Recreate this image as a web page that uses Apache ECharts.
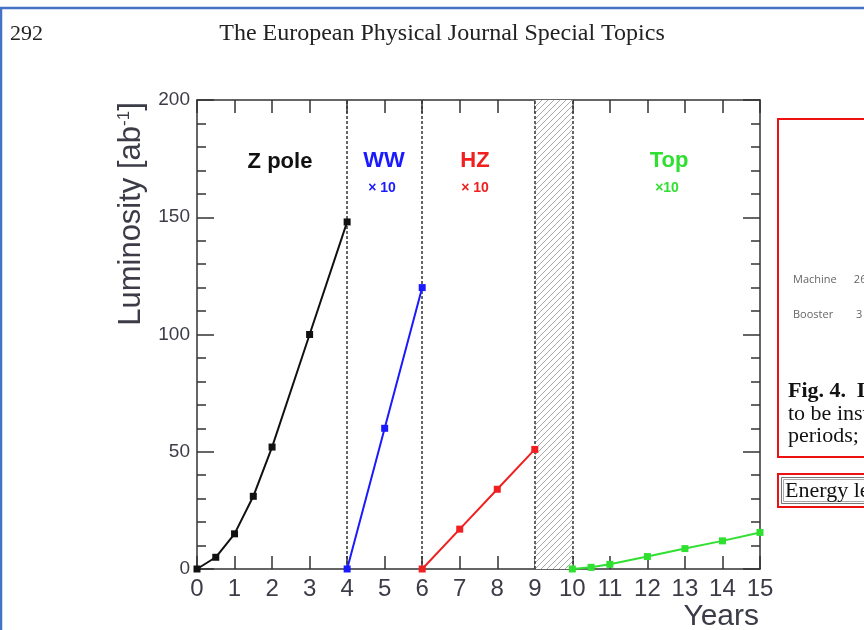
<!DOCTYPE html>
<html>
<head>
<meta charset="utf-8">
<script src="https://cdn.jsdelivr.net/npm/echarts@6/dist/echarts.min.js"></script>
<style>
  html, body { margin: 0; padding: 0; background: #fff; }
  #chart { width: 864px; height: 630px; }
</style>
</head>
<body>
<div id="chart"></div>
<script>
// 数据
const zYears = [0, 0.5, 1, 1.5, 2, 3, 4]
const zLumi = [0, 5, 15, 31, 52, 100, 148]
const wwYears = [4, 5, 6]
const wwLumi = [0, 60, 120]
const hzYears = [6, 7, 8, 9]
const hzLumi = [0, 17, 34, 51]
const topYears = [10, 10.5, 11, 12, 13, 14, 15]
const topLumi = [0, 0.7, 2, 5.3, 8.7, 12, 15.6]
const phaseBounds = [4, 6, 9, 10]
const shutdown = [9, 10]

const pairs = (xs, ys) => xs.map((x, i) => [x, ys[i]])

// hatch pattern for the shutdown gap
const hatch = document.createElement('canvas')
hatch.width = 6
hatch.height = 6
const hc = hatch.getContext('2d')
hc.fillStyle = '#fff'
hc.fillRect(0, 0, 6, 6)
hc.strokeStyle = '#ababab'
hc.lineWidth = 1
hc.beginPath()
hc.moveTo(-1, 7); hc.lineTo(7, -1)
hc.moveTo(-1, 1); hc.lineTo(1, -1)
hc.moveTo(5, 7); hc.lineTo(7, 5)
hc.stroke()

const axisCol = '#333'
const labelCol = '#3c3c48'

const xAxisBase = {
  type: 'value',
  min: 0,
  max: 15,
  interval: 1,
  axisLine: { onZero: false, lineStyle: { color: axisCol, width: 1.5 } },
  axisTick: { inside: true, length: 13, lineStyle: { color: axisCol, width: 1.5 } },
  splitLine: { show: false },
}
const yAxisBase = {
  type: 'value',
  min: 0,
  max: 200,
  interval: 50,
  axisLine: { show: true, onZero: false, lineStyle: { color: axisCol, width: 1.5 } },
  axisTick: { inside: true, length: 17, lineStyle: { color: axisCol, width: 1.5 } },
  minorTick: { show: true, splitNumber: 5, length: 9, lineStyle: { color: axisCol, width: 1.5 } },
  splitLine: { show: false },
  minorSplitLine: { show: false },
}

const lineSeries = (name, xs, ys, color) => ({
  type: 'line',
  name: name,
  data: pairs(xs, ys),
  symbol: 'rect',
  symbolSize: 7,
  showSymbol: true,
  lineStyle: { color: color, width: 2 },
  itemStyle: { color: color },
  z: 5,
})

const sansBold = 'Arial, "Liberation Sans", sans-serif'
const serif = '"Liberation Serif", serif'

const option = {
  animation: false,
  grid: { left: 197, top: 100, width: 563, height: 469 },
  xAxis: [
    Object.assign({}, xAxisBase, {
      position: 'bottom',
      axisLabel: { fontSize: 24, color: labelCol, margin: 8, fontFamily: 'Arial, "Liberation Sans"' },
    }),
    Object.assign({}, xAxisBase, { position: 'top', axisLabel: { show: false } }),
  ],
  yAxis: [
    Object.assign({}, yAxisBase, {
      position: 'left',
      axisLabel: { fontSize: 19, color: labelCol, margin: 7, fontFamily: 'Arial, "Liberation Sans"' },
    }),
    Object.assign({}, yAxisBase, { position: 'right', axisLabel: { show: false } }),
  ],
  series: [
    {
      type: 'line',
      data: [],
      markArea: {
        silent: true,
        itemStyle: { color: { image: hatch, repeat: 'repeat' } },
        data: [[{ xAxis: shutdown[0] }, { xAxis: shutdown[1] }]],
      },
      markLine: {
        silent: true,
        symbol: 'none',
        label: { show: false },
        lineStyle: { color: '#333', type: [3, 2], width: 1.5 },
        data: phaseBounds.map(v => ({ xAxis: v })),
      },
      z: 2,
    },
    lineSeries('Z pole', zYears, zLumi, '#111'),
    lineSeries('WW', wwYears, wwLumi, '#1a1aff'),
    lineSeries('HZ', hzYears, hzLumi, '#f02020'),
    lineSeries('Top', topYears, topLumi, '#30e030'),
  ],
  graphic: [
    // page furniture
    { type: 'line', shape: { x1: 0, y1: 8, x2: 864, y2: 8 }, style: { stroke: '#4472c4', lineWidth: 2.5 } },
    { type: 'line', shape: { x1: 1, y1: 8, x2: 1, y2: 630 }, style: { stroke: '#4472c4', lineWidth: 2.5 } },
    { type: 'text', x: 10, y: 34, style: { text: '292', font: '22px ' + serif, fill: '#222', verticalAlign: 'middle' } },
    { type: 'text', x: 442, y: 34, style: { text: 'The European Physical Journal Special Topics', font: '24px ' + serif, fill: '#222', align: 'center', verticalAlign: 'middle' } },
    // axis titles
    {
      type: 'text', x: 131, y: 214, rotation: Math.PI / 2,
      style: {
        text: '{a|Luminosity [ab}{b|-1}{a|]}',
        align: 'center', verticalAlign: 'middle',
        rich: {
          a: { fontSize: 31, fontFamily: 'Arial, "Liberation Sans"', fill: labelCol, color: labelCol },
          b: { fontSize: 17, fontFamily: 'Arial, "Liberation Sans"', fill: labelCol, color: labelCol, verticalAlign: 'top' },
        },
      },
    },
    { type: 'text', x: 759, y: 617, style: { text: 'Years', font: '30px Arial, "Liberation Sans"', fill: labelCol, align: 'right', verticalAlign: 'middle' } },
    // phase labels
    { type: 'text', x: 280, y: 162, style: { text: 'Z pole', font: 'bold 22px ' + sansBold, fill: '#111', align: 'center', verticalAlign: 'middle' } },
    { type: 'text', x: 384, y: 161, style: { text: 'WW', font: 'bold 22px ' + sansBold, fill: '#1a1aff', align: 'center', verticalAlign: 'middle' } },
    { type: 'text', x: 382, y: 188, style: { text: '× 10', font: 'bold 14px ' + sansBold, fill: '#1a1aff', align: 'center', verticalAlign: 'middle' } },
    { type: 'text', x: 475, y: 161, style: { text: 'HZ', font: 'bold 22px ' + sansBold, fill: '#f02020', align: 'center', verticalAlign: 'middle' } },
    { type: 'text', x: 475, y: 188, style: { text: '× 10', font: 'bold 14px ' + sansBold, fill: '#f02020', align: 'center', verticalAlign: 'middle' } },
    { type: 'text', x: 669, y: 161, style: { text: 'Top', font: 'bold 22px ' + sansBold, fill: '#30e030', align: 'center', verticalAlign: 'middle' } },
    { type: 'text', x: 667, y: 188, style: { text: '×10', font: 'bold 14px ' + sansBold, fill: '#30e030', align: 'center', verticalAlign: 'middle' } },
    // neighbouring boxes on the page
    { type: 'rect', shape: { x: 778, y: 119, width: 100, height: 338 }, style: { fill: 'none', stroke: '#ee1111', lineWidth: 2 } },
    { type: 'text', x: 793, y: 280, style: { text: 'Machine      26', font: '11px "Open Sans", sans-serif', fill: '#666', verticalAlign: 'middle' } },
    { type: 'text', x: 793, y: 315, style: { text: 'Booster        3', font: '11px "Open Sans", sans-serif', fill: '#666', verticalAlign: 'middle' } },
    { type: 'text', x: 788, y: 391, style: { text: 'Fig. 4.  Layout', font: 'bold 22px ' + serif, fill: '#111', verticalAlign: 'middle' } },
    { type: 'text', x: 788, y: 414, style: { text: 'to be installed', font: '22px ' + serif, fill: '#111', verticalAlign: 'middle' } },
    { type: 'text', x: 788, y: 436, style: { text: 'periods; the', font: '22px ' + serif, fill: '#111', verticalAlign: 'middle' } },
    { type: 'rect', shape: { x: 778, y: 474, width: 100, height: 33 }, style: { fill: 'none', stroke: '#ee1111', lineWidth: 2 } },
    { type: 'rect', shape: { x: 781.5, y: 477.5, width: 100, height: 26 }, style: { fill: 'none', stroke: '#777', lineWidth: 1 } },
    { type: 'rect', shape: { x: 783.5, y: 479.5, width: 100, height: 22 }, style: { fill: 'none', stroke: '#aaa', lineWidth: 1 } },
    { type: 'text', x: 785, y: 491, style: { text: 'Energy level', font: '22px ' + serif, fill: '#111', verticalAlign: 'middle' } },
  ],
}

const myChart = echarts.init(document.getElementById('chart'), null, { renderer: 'canvas' })
myChart.setOption(option)
</script>
</body>
</html>
